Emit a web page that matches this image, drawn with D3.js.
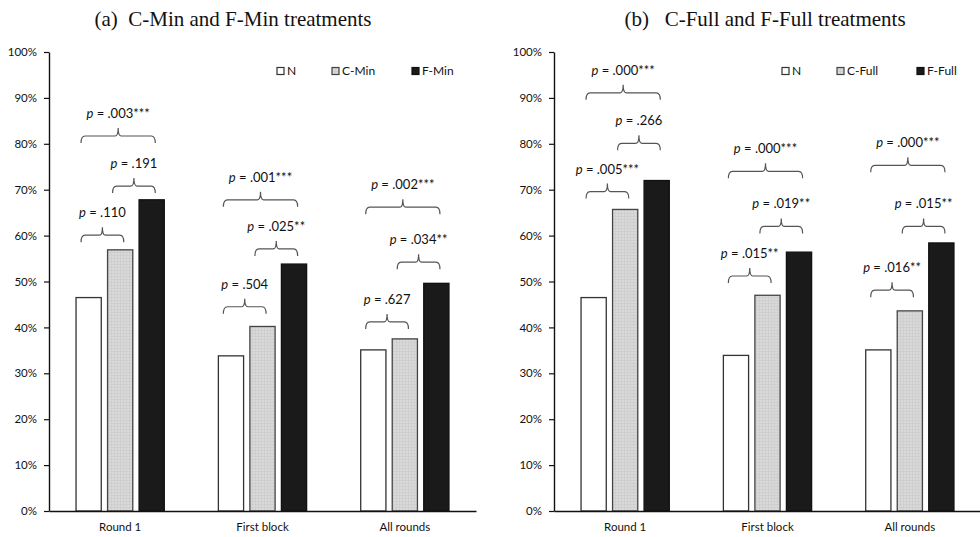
<!DOCTYPE html>
<html>
<head>
<meta charset="utf-8">
<script src="https://cdn.jsdelivr.net/npm/d3@7"></script>
<style>
  html, body { margin: 0; padding: 0; background: #fff; }
  svg { display: block; }
  .title { font-family: "Liberation Serif", "Times New Roman", serif; font-size: 21px; fill: #111; white-space: pre; }
  .tick text { font-family: Lato, "Open Sans", sans-serif; font-size: 11.5px; fill: #111; }
  .cat { font-family: Lato, "Open Sans", sans-serif; font-size: 12.5px; fill: #111; }
  .leg { font-family: Lato, "Open Sans", sans-serif; font-size: 12px; fill: #111; }
  .plab { font-family: Lato, "Open Sans", sans-serif; font-size: 13px; fill: #111; }
</style>
</head>
<body>
<div id="chart"></div>
<script>
const width = 980;
const height = 537;

// data
const categories = ["Round 1", "First block", "All rounds"];
const yTicks = [0, 10, 20, 30, 40, 50, 60, 70, 80, 90, 100];

const seriesA = ["N", "C-Min", "F-Min"];
const nA = [46.5, 33.8, 35.1];
const cMinA = [56.9, 40.2, 37.5];
const fMinA = [67.8, 53.8, 49.6];

const seriesB = ["N", "C-Full", "F-Full"];
const nB = [46.5, 33.9, 35.1];
const cFullB = [65.7, 47.0, 43.6];
const fFullB = [72.0, 56.4, 58.4];

// brackets: category, from series, to series, level (%), p label
const bracketsA = [
    { cat: 0, from: 0, to: 2, level: 81.7, label: ".003***" },
    { cat: 0, from: 1, to: 2, level: 70.8, label: ".191" },
    { cat: 0, from: 0, to: 1, level: 60.1, label: ".110" },
    { cat: 1, from: 0, to: 2, level: 67.8, label: ".001***" },
    { cat: 1, from: 1, to: 2, level: 57.1, label: ".025**" },
    { cat: 1, from: 0, to: 1, level: 44.5, label: ".504" },
    { cat: 2, from: 0, to: 2, level: 66.2, label: ".002***" },
    { cat: 2, from: 1, to: 2, level: 54.2, label: ".034**" },
    { cat: 2, from: 0, to: 1, level: 41.2, label: ".627" }
];
const bracketsB = [
    { cat: 0, from: 0, to: 2, level: 91.1, label: ".000***" },
    { cat: 0, from: 1, to: 2, level: 80.1, label: ".266" },
    { cat: 0, from: 0, to: 1, level: 69.6, label: ".005***" },
    { cat: 1, from: 0, to: 2, level: 74.0, label: ".000***" },
    { cat: 1, from: 1, to: 2, level: 62.0, label: ".019**" },
    { cat: 1, from: 0, to: 1, level: 51.2, label: ".015**" },
    { cat: 2, from: 0, to: 2, level: 75.3, label: ".000***" },
    { cat: 2, from: 1, to: 2, level: 62.0, label: ".015**" },
    { cat: 2, from: 0, to: 1, level: 48.1, label: ".016**" }
];

const panels = [
    { title: "(a)  C-Min and F-Min treatments", titleX: 233, left: 49, right: 476,
      series: seriesA, values: [nA, cMinA, fMinA], brackets: bracketsA },
    { title: "(b)   C-Full and F-Full treatments", titleX: 765, left: 554, right: 981,
      series: seriesB, values: [nB, cFullB, fFullB], brackets: bracketsB }
];

const fills = ["#ffffff", "url(#grid)", "#1a1a1a"];
const strokes = ["#333", "#444", "#111"];
const legendOffsets = [228, 283, 363];

const svg = d3.select("#chart").append("svg")
    .attr("width", width)
    .attr("height", height)
    .attr("viewBox", [0, 0, width, height]);

// light gray hatched fill for the middle series
const pat = svg.append("defs").append("pattern")
    .attr("id", "grid")
    .attr("width", 3).attr("height", 3)
    .attr("patternUnits", "userSpaceOnUse");
pat.append("rect").attr("width", 3).attr("height", 3).attr("fill", "#d9d9d9");
pat.append("path").attr("d", "M0 0.5H3M0.5 0V3")
    .attr("stroke", "#c9c9c9").attr("stroke-width", 0.6);

const y = d3.scaleLinear().domain([0, 100]).range([511, 52]);

panels.forEach(p => drawPanel(p));

function drawPanel(p) {
    const g = svg.append("g");

    const x0 = d3.scaleBand()
        .domain(categories)
        .range([p.left, p.right])
        .paddingInner(0.38)
        .paddingOuter(0.19);
    const x1 = d3.scaleBand()
        .domain(d3.range(p.series.length))
        .range([0, x0.bandwidth()])
        .padding(0.2)
        .paddingOuter(0);

    g.append("text")
        .attr("class", "title")
        .attr("x", p.titleX)
        .attr("y", 26)
        .attr("text-anchor", "middle")
        .text(p.title);

    // y axis
    const yAxis = g.append("g")
        .attr("transform", `translate(${p.left},0)`)
        .call(d3.axisLeft(y).tickValues(yTicks).tickFormat(d => d + "%").tickSize(5).tickSizeOuter(0));
    yAxis.select(".domain").attr("stroke", "#111").attr("stroke-width", 1.4);
    yAxis.selectAll(".tick line").attr("stroke", "#111").attr("stroke-width", 1.2);
    yAxis.selectAll(".tick text").attr("x", -12);

    // bars
    p.series.forEach((s, si) => {
        g.selectAll(null)
            .data(p.values[si])
            .join("rect")
            .attr("x", (d, i) => x0(categories[i]) + x1(si))
            .attr("y", d => y(d))
            .attr("width", x1.bandwidth())
            .attr("height", d => y(0) - y(d))
            .attr("fill", fills[si])
            .attr("stroke", strokes[si])
            .attr("stroke-width", 1.3);
    });

    // x axis line
    const xAxis = g.append("g")
        .attr("transform", `translate(0,${y(0)})`)
        .call(d3.axisBottom(x0).tickSize(0).tickPadding(12));
    xAxis.select(".domain").attr("stroke", "#111").attr("stroke-width", 1.4);
    xAxis.selectAll(".tick text").attr("class", "cat").attr("font-size", null).attr("font-family", null);

    // brackets
    const bx = b => {
        const xl = x0(categories[b.cat]) + x1(b.from) + 5;
        const xr = x0(categories[b.cat]) + x1(b.to) + x1.bandwidth() - 9;
        return [xl, (xl + xr) / 2, xr];
    };
    g.selectAll("path.brace")
        .data(p.brackets)
        .join("path")
        .attr("class", "brace")
        .attr("fill", "none")
        .attr("stroke", "#555")
        .attr("stroke-width", 1.2)
        .attr("d", b => {
            const [xl, xm, xr] = bx(b);
            const yy = y(b.level);
            return `M${xl},${yy + 7} Q${xl},${yy} ${xl + 4},${yy} L${xm - 3},${yy} Q${xm},${yy} ${xm},${yy - 8}` +
                ` Q${xm},${yy} ${xm + 3},${yy} L${xr - 4},${yy} Q${xr},${yy} ${xr},${yy + 7}`;
        });

    const lab = g.selectAll("text.plab")
        .data(p.brackets)
        .join("text")
        .attr("class", "plab")
        .attr("x", b => bx(b)[1])
        .attr("y", b => y(b.level) - 18)
        .attr("text-anchor", "middle");
    lab.append("tspan").attr("font-style", "italic").text("p");
    lab.append("tspan").text(b => " = " + b.label);

    // legend
    const leg = g.selectAll("g.leg")
        .data(p.series)
        .join("g")
        .attr("transform", (d, i) => `translate(${p.left + legendOffsets[i]},${71})`);
    leg.append("rect")
        .attr("x", 0).attr("y", -3.5)
        .attr("width", 7).attr("height", 7)
        .attr("fill", (d, i) => fills[i])
        .attr("stroke", (d, i) => strokes[i])
        .attr("stroke-width", 1.2);
    leg.append("text")
        .attr("class", "leg")
        .attr("x", 10)
        .attr("dy", "0.35em")
        .text(d => d);
}
</script>
</body>
</html>
